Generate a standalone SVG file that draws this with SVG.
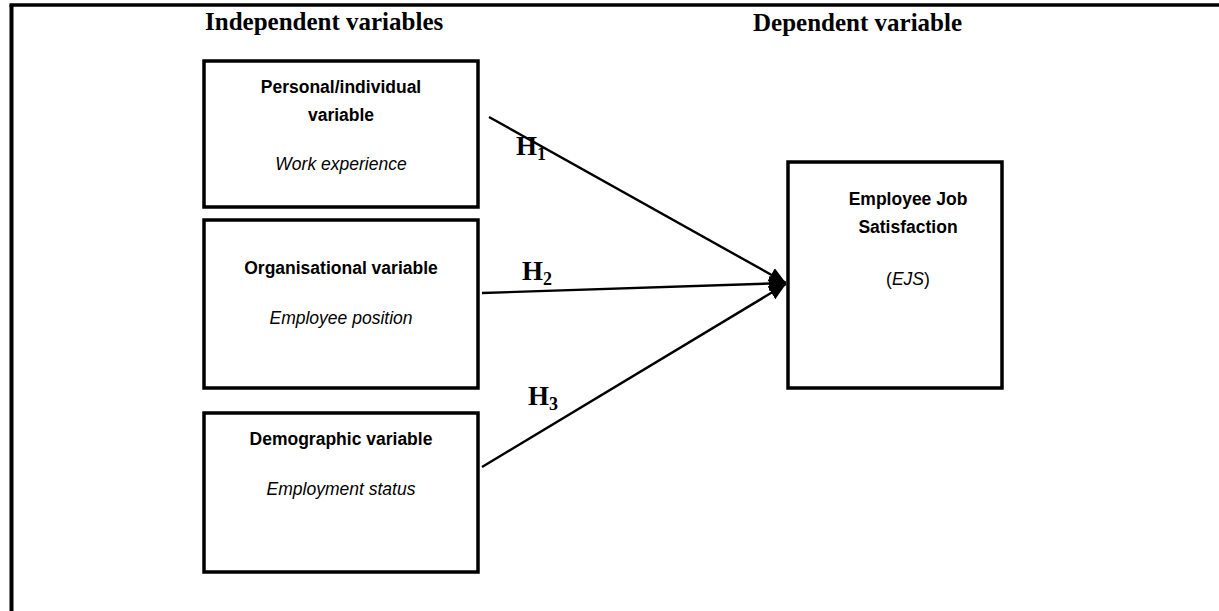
<svg xmlns="http://www.w3.org/2000/svg" width="1219" height="611" viewBox="0 0 1219 611">
<style>
.box{fill:#fff;stroke:#000;stroke-width:3.5}
.hdr{font-family:"Liberation Serif",serif;font-weight:bold;font-size:25px;fill:#000}
.t{font-family:"Liberation Sans",Arial,sans-serif;font-size:17.5px;fill:#000;text-anchor:middle}
.b{font-weight:bold}
.i{font-style:italic}
.h{font-family:"Liberation Serif",serif;font-weight:bold;font-size:27px;fill:#000}
.sub{font-size:18px}
.conn{stroke:#000;stroke-width:2.4;fill:none;marker-end:url(#arr)}
</style>
<defs>
<marker id="arr" markerUnits="userSpaceOnUse" markerWidth="20" markerHeight="18" refX="17" refY="9" orient="auto">
<path d="M0,1.5 L17,9 L0,16.5 Z" fill="#000"/>
</marker>
</defs>
<rect width="1219" height="611" fill="#fff"/>
<g id="frame">
<line x1="9.5" y1="5" x2="1219" y2="5" stroke="#000" stroke-width="3.5"/>
<line x1="11.5" y1="5" x2="11.5" y2="611" stroke="#000" stroke-width="4"/>
</g>
<g id="headers">
<text class="hdr" x="205" y="30">Independent variables</text>
<text class="hdr" x="753" y="31">Dependent variable</text>
</g>
<g id="personal">
<rect class="box" x="204" y="61" width="274" height="146"/>
<text class="t b" x="341" y="93">Personal/individual</text>
<text class="t b" x="341" y="121">variable</text>
<text class="t i" x="341" y="170">Work experience</text>
</g>
<g id="organisational">
<rect class="box" x="204" y="220" width="274" height="168"/>
<text class="t b" x="341" y="274">Organisational variable</text>
<text class="t i" x="341" y="324">Employee position</text>
</g>
<g id="demographic">
<rect class="box" x="204" y="413" width="274" height="159"/>
<text class="t b" x="341" y="445">Demographic variable</text>
<text class="t i" x="341" y="495">Employment status</text>
</g>
<g id="ejs">
<rect class="box" x="788" y="162" width="214" height="226"/>
<text class="t b" x="908" y="205">Employee Job</text>
<text class="t b" x="908" y="233">Satisfaction</text>
<text class="t" x="908" y="285">(<tspan class="i">EJS</tspan>)</text>
</g>
<g id="connectors">
<line class="conn" x1="489" y1="117" x2="786" y2="283"/>
<line class="conn" x1="482" y1="293" x2="786" y2="283"/>
<line class="conn" x1="482" y1="467" x2="786" y2="284"/>
</g>
<g id="labels">
<text class="h" x="516" y="155">H<tspan class="sub" dy="5">1</tspan></text>
<text class="h" x="522" y="280">H<tspan class="sub" dy="5">2</tspan></text>
<text class="h" x="528" y="405">H<tspan class="sub" dy="5">3</tspan></text>
</g>
</svg>
